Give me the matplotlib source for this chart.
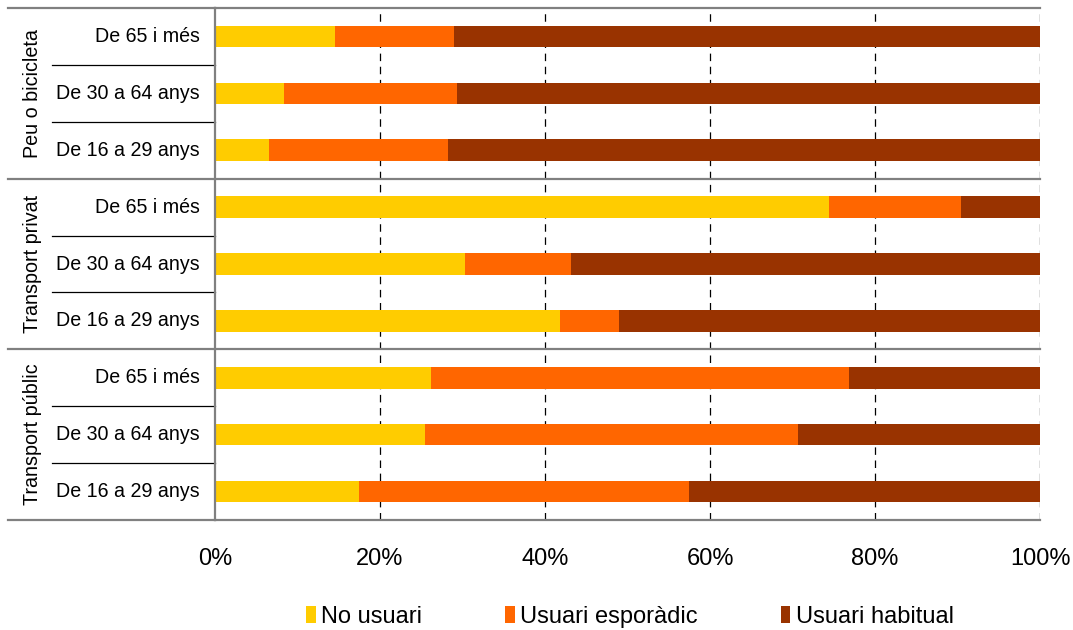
import matplotlib
matplotlib.use("Agg")
import matplotlib.pyplot as plt
from matplotlib.patches import Patch
from matplotlib.lines import Line2D
import matplotlib.transforms as mtransforms

plt.rcParams['font.family'] = ['Liberation Sans', 'DejaVu Sans']

# Mode of transport groups and age bands (top to bottom)
groups = ["Peu o bicicleta", "Transport privat", "Transport públic"]
ages = ["De 65 i més", "De 30 a 64 anys", "De 16 a 29 anys"]

# Share of respondents (%) per row, ordered group by group, age band by age band
no_usuari = [14.5, 8.4, 6.5, 74.4, 30.3, 41.8, 26.2, 25.5, 17.5]
usuari_esporadic = [14.5, 20.9, 21.7, 16.0, 12.8, 7.2, 50.7, 45.2, 39.9]
usuari_habitual = [71.0, 70.7, 71.8, 9.6, 56.9, 51.0, 23.1, 29.3, 42.6]

series_names = ["No usuari", "Usuari esporàdic", "Usuari habitual"]
series_colors = ["#FFCC00", "#FF6600", "#993300"]

x_ticks = [0, 20, 40, 60, 80, 100]

W, H = 1073, 630
fig = plt.figure(figsize=(W / 100, H / 100), dpi=100)
left_px, right_px, top_px, bottom_px = 215, 1040, 8, 520
ax = fig.add_axes([left_px / W, 1 - bottom_px / H,
                   (right_px - left_px) / W, (bottom_px - top_px) / H])

n_rows = len(groups) * len(ages)
rows = list(range(n_rows))

# dashed vertical gridlines behind the bars
for xv in x_ticks[1:]:
    ax.axvline(xv, color="black", lw=0.9, dashes=(6, 4.5), zorder=0)

lefts = [0.0] * n_rows
for vals, name, col in zip([no_usuari, usuari_esporadic, usuari_habitual],
                           series_names, series_colors):
    ax.barh(rows, vals, left=lefts, height=0.38, color=col, label=name,
            zorder=2, linewidth=0)
    lefts = [a + b for a, b in zip(lefts, vals)]

ax.set_xlim(0, 100)
ax.set_ylim(n_rows - 0.5, -0.5)

ax.set_xticks(x_ticks)
ax.set_xticklabels([f"{v}%" for v in x_ticks], fontsize=17)
ax.tick_params(axis="x", length=0, pad=20)
ax.set_yticks([])

frame_col = "#808080"
for s in ["left", "top", "bottom"]:
    ax.spines[s].set_color(frame_col)
    ax.spines[s].set_linewidth(1.6)
ax.spines["right"].set_visible(False)

# Category label area to the left of the plot
span = right_px - left_px
def ax_x(px):
    return (px - left_px) / span

trans = mtransforms.blended_transform_factory(ax.transAxes, ax.transData)

# outer frame lines across the label area
for yb in [-0.5, n_rows - 0.5]:
    ax.add_line(Line2D([ax_x(8), 0], [yb, yb], transform=trans, color=frame_col,
                       lw=1.6, clip_on=False))

for gi, g in enumerate(groups):
    base = gi * len(ages)
    # group label, rotated
    ax.text(ax_x(33), base + (len(ages) - 1) / 2, g, transform=trans,
            rotation=90, ha="center", va="center", fontsize=14.2)
    for ai, a in enumerate(ages):
        ax.text(ax_x(200), base + ai, a, transform=trans, ha="right",
                va="center", fontsize=14.1)
        if ai < len(ages) - 1:
            yb = base + ai + 0.5
            ax.add_line(Line2D([ax_x(52), 0], [yb, yb], transform=trans,
                               color="black", lw=0.9, clip_on=False))
    if gi < len(groups) - 1:
        yb = base + len(ages) - 0.5
        ax.add_line(Line2D([ax_x(8), 1], [yb, yb], transform=trans,
                           color=frame_col, lw=1.6, clip_on=False, zorder=3))

handles = [Patch(facecolor=c, edgecolor="none", label=n)
           for n, c in zip(series_names, series_colors)]
fig.legend(handles=handles, loc="center", bbox_to_anchor=(630 / W, 1 - 617 / H),
           ncol=3, frameon=False, fontsize=17, handlelength=0.42,
           handleheight=0.75, handletextpad=0.22, columnspacing=3.5)

fig.savefig("out.png", dpi=100)
